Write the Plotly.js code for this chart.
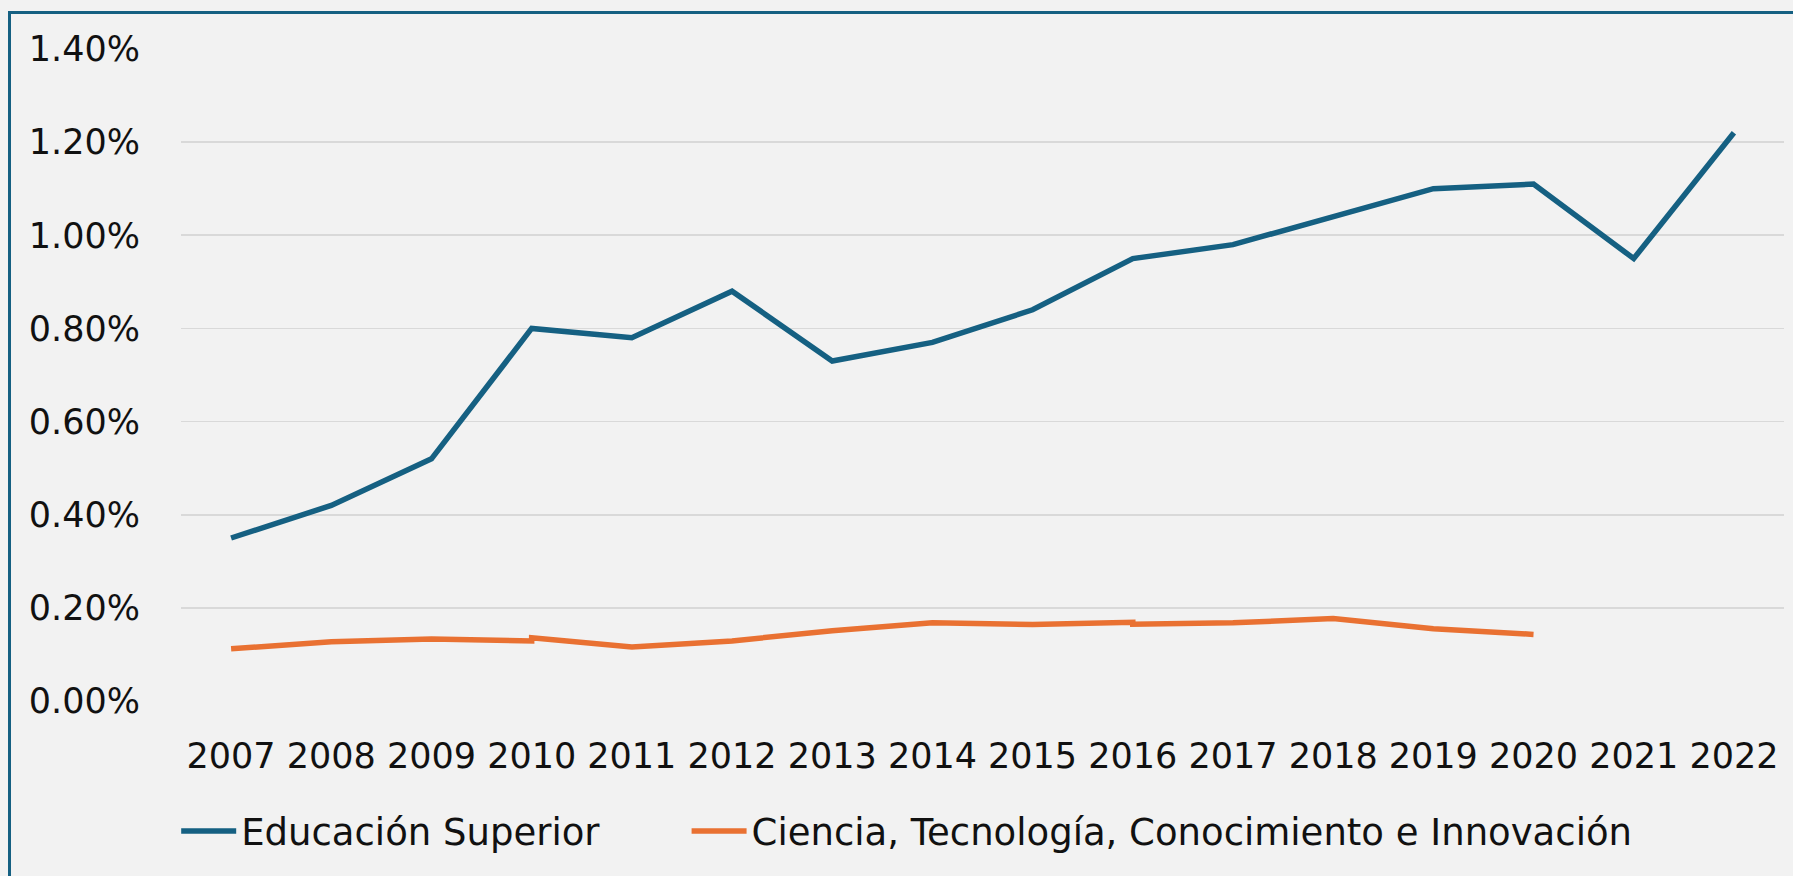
<!DOCTYPE html>
<html>
<head>
<meta charset="utf-8">
<script src="https://cdn.plot.ly/plotly-3.0.1.min.js"></script>
<style>
  html, body { margin: 0; padding: 0; background: #f2f2f2; overflow: hidden; }
  #frame { position: absolute; left: 8px; top: 11px; width: 2000px; height: 1000px;
           border-left: 3px solid #156082; border-top: 3px solid #156082; box-sizing: border-box; }
  #chart { position: absolute; left: 0; top: 0; width: 1793px; height: 876px; }
</style>
</head>
<body>
<div id="frame"></div>
<div id="chart"></div>
<script>
// Categories (years) and tick labels
const years = [2007, 2008, 2009, 2010, 2011, 2012, 2013, 2014, 2015, 2016, 2017, 2018, 2019, 2020, 2021, 2022];
const yearLabels = ["2007", "2008", "2009", "2010", "2011", "2012", "2013", "2014", "2015", "2016", "2017", "2018", "2019", "2020", "2021", "2022"];

// Series 1: Educación Superior (% values)
const eduName = "Educación Superior";
const eduValues = [0.35, 0.42, 0.52, 0.80, 0.78, 0.88, 0.73, 0.77, 0.84, 0.95, 0.98, 1.04, 1.10, 1.11, 0.95, 1.22];

// Series 2: Ciencia, Tecnología, Conocimiento e Innovación (% values)
// (the source line shows small steps at 2010 and 2016, read as two values in those years)
const ctciName = "Ciencia, Tecnología, Conocimiento e Innovación";
const ctciYears = [2007, 2008, 2009, 2010, 2010, 2011, 2012, 2013, 2014, 2015, 2016, 2016, 2017, 2018, 2019, 2020];
const ctciValues = [0.112, 0.127, 0.133, 0.129, 0.136, 0.116, 0.129, 0.151, 0.168, 0.164, 0.169, 0.165, 0.168, 0.177, 0.155, 0.143];

// Y axis ticks and labels
const yTicks = [0, 0.2, 0.4, 0.6, 0.8, 1.0, 1.2, 1.4];
const yTickLabels = ["0.00%", "0.20%", "0.40%", "0.60%", "0.80%", "1.00%", "1.20%", "1.40%"];

const BLUE = "#156082";
const ORANGE = "#E97132";
const FONT = "DejaVu Sans";
const TEXT = "#111111";

const traces = [
  {
    x: years, y: eduValues, name: eduName, type: "scatter", mode: "lines",
    line: { color: BLUE, width: 5.5 }, hoverinfo: "skip", legend: "legend"
  },
  {
    x: ctciYears, y: ctciValues, name: ctciName, type: "scatter", mode: "lines",
    line: { color: ORANGE, width: 5.5 }, hoverinfo: "skip", legend: "legend2"
  }
];

const legendBase = {
  orientation: "h",
  xanchor: "left",
  y: -0.2, yanchor: "middle",
  font: { family: FONT, size: 37, color: TEXT },
  bgcolor: "rgba(0,0,0,0)",
  itemwidth: 55
};

const layout = {
  width: 1793, height: 876,
  paper_bgcolor: "rgba(0,0,0,0)",
  plot_bgcolor: "rgba(0,0,0,0)",
  margin: { l: 181, r: 9, t: 49, b: 175, pad: 0 },
  font: { family: FONT, color: TEXT, size: 35 },
  showlegend: true,
  legend: Object.assign({}, legendBase, { x: -0.003 }),
  legend2: Object.assign({}, legendBase, { x: 0.3154 }),
  xaxis: {
    type: "linear",
    range: [2006.5, 2022.5],
    tickvals: years, ticktext: yearLabels,
    showgrid: false, zeroline: false, showline: false,
    ticks: "outside", ticklen: 24, tickcolor: "rgba(0,0,0,0)",
    tickfont: { family: FONT, size: 35, color: TEXT },
    fixedrange: true
  },
  yaxis: {
    range: [0, 1.4],
    tickvals: yTicks, ticktext: yTickLabels,
    showgrid: true, gridcolor: "#d9d9d9", gridwidth: 1.7,
    zeroline: false, showline: false,
    ticks: "outside", ticklen: 33, tickcolor: "rgba(0,0,0,0)",
    tickfont: { family: FONT, size: 35, color: TEXT },
    fixedrange: true
  }
};

Plotly.newPlot("chart", traces, layout, { displayModeBar: false, staticPlot: true });
</script>
</body>
</html>
